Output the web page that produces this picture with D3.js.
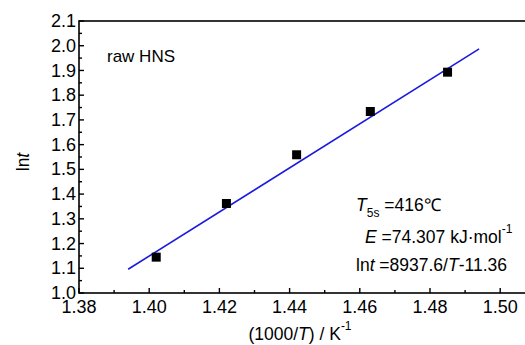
<!DOCTYPE html>
<html><head><meta charset="utf-8">
<script src="https://cdn.jsdelivr.net/npm/d3@7"></script>
<style>body{margin:0;background:#fff}svg{display:block;font-family:"Liberation Sans",Arial,sans-serif}</style>
</head><body><svg id="c" width="525" height="345"></svg>
<script>
const xValues = [1.402, 1.422, 1.442, 1.463, 1.485];
const yValues = [1.145, 1.362, 1.559, 1.734, 1.893];
const fitX = [1.394, 1.494];
const fitY = [1.096, 1.987];
const xTicks = [1.38, 1.40, 1.42, 1.44, 1.46, 1.48, 1.50];
const yTicks = [1.0, 1.1, 1.2, 1.3, 1.4, 1.5, 1.6, 1.7, 1.8, 1.9, 2.0, 2.1];

const svg = d3.select("#c");
const L = 79, T = 21, B = 293;
const x = d3.scaleLinear().domain([1.38, 1.51]).range([L, L + 70.2 * 6.5]);
const y = d3.scaleLinear().domain([1.0, 2.1]).range([B, T]);
const fs = 18, fa = 17.5;

// frame
svg.append("rect").attr("x", L).attr("y", T).attr("width", x(1.51) - L).attr("height", B - T)
  .attr("fill", "none").attr("stroke", "#000").attr("stroke-width", 1.6);

// y axis
const yMinor = d3.range(1.0, 2.1001, 0.05);
const ya = svg.append("g");
ya.selectAll("line.mn").data(yMinor).join("line")
  .attr("x1", L).attr("x2", d => L + (Math.abs(Math.round(d*10) - d*10) < 1e-6 ? 5 : 3))
  .attr("y1", d => y(d)).attr("y2", d => y(d)).attr("stroke", "#000").attr("stroke-width", 1.4);
ya.selectAll("text").data(yTicks).join("text")
  .attr("x", L - 3).attr("y", d => y(d)).attr("dy", "0.34em").attr("text-anchor", "end")
  .attr("font-size", fs).text(d => d.toFixed(1));

// x axis
const xMinor = d3.range(1.38, 1.5101, 0.01);
const xa = svg.append("g");
xa.selectAll("line").data(xMinor).join("line")
  .attr("x1", d => x(d)).attr("x2", d => x(d)).attr("y1", B)
  .attr("y2", (d, i) => B - (i % 2 === 0 ? 5 : 3)).attr("stroke", "#000").attr("stroke-width", 1.4);
xa.selectAll("text").data(xTicks).join("text")
  .attr("x", d => x(d)).attr("y", B + 20).attr("text-anchor", "middle")
  .attr("font-size", fs).text(d => d.toFixed(2));

// axis titles
const yl = svg.append("text").attr("transform", "translate(29,162) rotate(-90)")
  .attr("text-anchor", "middle").attr("font-size", fa);
yl.append("tspan").text("ln");
yl.append("tspan").attr("font-style", "italic").text("t");

const xl = svg.append("text").attr("x", 300).attr("y", 340).attr("text-anchor", "middle").attr("font-size", fa);
xl.append("tspan").text("(1000/");
xl.append("tspan").attr("font-style", "italic").text("T");
xl.append("tspan").text(") / K");
xl.append("tspan").attr("font-size", 12).attr("dy", -10).text("-1");

// fit line
svg.append("line").attr("x1", x(fitX[0])).attr("y1", y(fitY[0]))
  .attr("x2", x(fitX[1])).attr("y2", y(fitY[1])).attr("stroke", "#1a1adf").attr("stroke-width", 1.6);

// points
svg.selectAll("rect.pt").data(xValues).join("rect").attr("class", "pt")
  .attr("x", (d) => x(d) - 4.5).attr("y", (d, i) => y(yValues[i]) - 4.5)
  .attr("width", 9).attr("height", 9).attr("fill", "#000");

// labels
svg.append("text").attr("x", 107).attr("y", 62).attr("font-size", 17).text("raw HNS");

const t1 = svg.append("text").attr("x", 356).attr("y", 211).attr("font-size", fa);
t1.append("tspan").attr("font-style", "italic").text("T");
t1.append("tspan").attr("font-size", 12).attr("dy", 6).text("5s");
t1.append("tspan").attr("dy", -6).text(" =416℃");

const t2 = svg.append("text").attr("x", 365).attr("y", 243).attr("font-size", fa);
t2.append("tspan").attr("font-style", "italic").text("E");
t2.append("tspan").text(" =74.307 kJ·mol");
t2.append("tspan").attr("font-size", 12).attr("dy", -10).text("-1");

const t3 = svg.append("text").attr("x", 356).attr("y", 271).attr("font-size", fa);
t3.append("tspan").text("ln");
t3.append("tspan").attr("font-style", "italic").text("t");
t3.append("tspan").text(" =8937.6/");
t3.append("tspan").attr("font-style", "italic").text("T");
t3.append("tspan").text("-11.36");
</script></body></html>
